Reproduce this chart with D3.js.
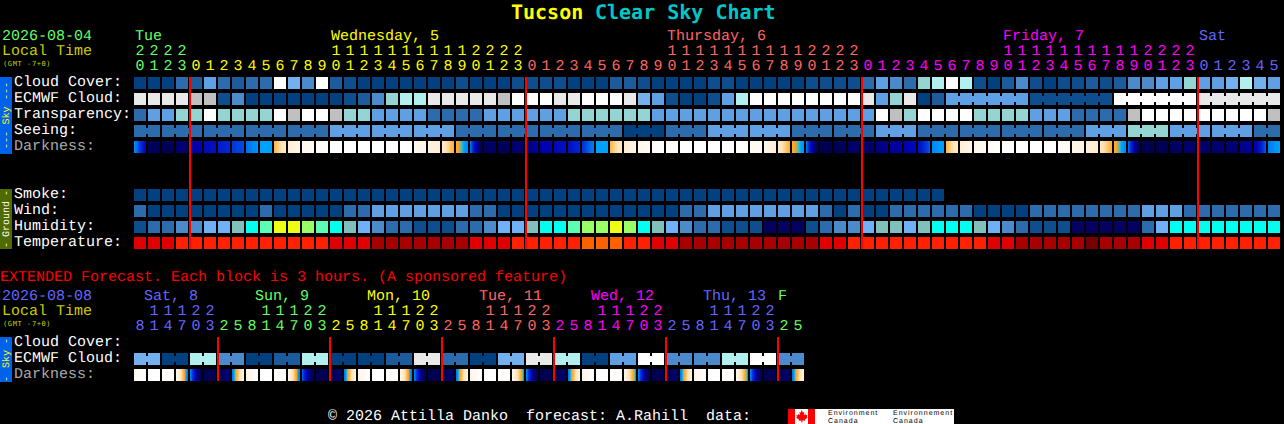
<!DOCTYPE html>
<html><head><meta charset="utf-8">
<script src="https://cdn.jsdelivr.net/npm/d3@7/dist/d3.min.js"></script>
<style>
html,body{margin:0;padding:0;background:#000;overflow:hidden}
svg{display:block}
text{font-family:"Liberation Mono","DejaVu Sans Mono",monospace;font-size:15px;white-space:pre;text-rendering:geometricPrecision}
</style></head><body>
<script>
// ---- level key: 0..5 blue ramp, 6 speckled blue, 7 teal, 8 pale cyan, 9 grey, 10 light grey, 11 white
const cloudCover = [0,0,0,3,2,5,3,2,3,3,11,6,4,11,2,1,0,0,0,0,0,
 0,0,1,0,0,0,1,1,1,1,0,0,0,2,2,1,0,0,0,0,1,1,0,0,0,0,0,1,1,1,1,
 3,5,4,3,7,8,11,8,1,0,2,4,1,0,1,1,2,1,2,4,4,5,5,7,5,5,6,8,6,5];
const ecmwfCloud = [10,10,10,10,9,9,1,4,0,0,0,0,0,0,0,1,2,4,7,8,8,
 10,10,10,10,10,9,11,11,11,10,10,11,11,11,10,6,5,1,0,0,1,5,8,11,11,11,11,11,11,11,11,
 10,5,7,10,0,2,5,5,5,5,5,5,1,1,1,1,1,1,11,11,11,11,11,11,10,10,10,10,10,10];
const transparency = [3,5,5,7,7,11,7,7,7,7,11,9,11,11,9,7,7,5,5,5,5,
 3,3,3,3,5,5,5,5,5,5,7,7,7,7,7,7,5,5,5,5,5,5,5,5,5,5,5,5,5,5,5,
 5,11,9,7,11,11,11,11,7,7,7,7,5,5,5,3,3,3,3,9,11,11,11,11,11,11,11,11,11,9];
const seeing = [3,3,3,3,3,3,3,3,3,3,3,3,3,3,5,5,5,5,5,5,5,5,5,
 3,3,3,3,3,3,3,3,3,3,3,3,0,0,0,3,3,3,5,5,5,5,5,5,3,3,3,3,3,3,
 5,5,5,3,3,3,3,3,3,3,3,3,3,3,3,5,5,5,7,7,7,5,5,5,5,5,5,3,3];
const smoke = new Array(58).fill(0);
const wind = [3,0,0,0,0,0,0,0,0,3,0,0,0,0,0,3,3,5,5,5,5,
 5,5,5,3,3,0,0,0,0,0,0,0,0,0,0,0,0,0,3,3,5,5,5,5,5,5,5,5,3,0,3,
 0,0,3,3,3,3,3,3,0,0,0,0,3,3,3,3,3,3,3,3,5,5,5,3,3,3,3,3,3,3];
// humidity key: 0 navy,1 blue,2 mid,3 light,4 sky,5 grey-teal,6 cyan,7 mint,8 lime,9 yellow
const humidity = [1,2,2,3,3,4,4,5,6,7,9,9,8,7,6,5,4,3,2,2,1,
 1,1,2,2,3,4,4,5,6,6,7,8,8,9,8,6,5,4,3,2,2,1,1,1,0,0,0,1,2,3,3,
 4,5,5,4,5,6,6,6,5,4,3,2,1,1,1,0,0,0,0,0,2,4,6,6,6,6,6,6,6,6];
// temperature key: 0 very dark red,1 dark red,2 red,3 scarlet,4 orange
const temperature = [2,2,2,3,3,3,3,3,3,3,3,3,3,3,2,2,2,1,1,1,1,
 1,1,1,2,2,2,3,3,3,3,3,4,4,4,3,3,2,2,1,1,1,1,1,1,1,1,1,1,2,2,3,
 3,3,3,3,3,3,3,3,3,2,2,1,1,1,1,1,0,1,1,1,2,2,3,3,3,3,3,3,3,3];
// darkness index at left and right edge of each cell (0 daylight .. 94 deep night)
const darknessL = [54,90,93,86,75,71,67,63,58,50,38,20,10,6,0,0,0,0,0,0,10,
 17,24,42,58,87,90,86,84,75,72,70,64,50,38,22,12,4,0,0,0,0,0,0,6,12,24,42,58,93,93,87,
 86,82,78,74,70,54,38,20,12,5,0,0,0,0,2,12,20,26,42,58,93,93,90,86,86,86,85,80,76,56];
const darknessR = [72,90,90,84,74,70,65,61,52,50,24,14,7,2,0,0,0,0,0,0,14,
 20,40,54,90,87,90,84,76,73,70,65,56,50,24,16,6,0,0,0,0,0,0,0,8,20,40,52,90,93,87,86,
 85,80,76,72,60,50,24,14,6,0,0,0,0,0,8,16,22,40,54,90,93,90,86,86,86,84,84,78,60,50];
// extended forecast, 3-hour blocks
const extCloud = [6,6,0,0,8,8,4,4,0,0,2,2,8,8,0,0,0,0,2,2,10,10,3,3,0,0,6,6,10,10,8,8,0,0,5,5,11,11,4,4,4,4,8,8,11,11,4,4];
const extDarkL = [8,0,0,10,56,92,93,56,16,0,0,12,60,93,93,56,14,0,0,12,56,93,93,56,14,0,0,12,56,93,93,56,14,0,0,12,56,93,93,56,14,0,0,12,56,93,93,56];
const extDarkR = [0,0,6,56,93,93,80,16,0,0,6,56,93,93,84,16,0,0,6,56,93,93,84,16,0,0,6,50,93,93,84,16,0,0,6,50,93,93,84,16,0,0,6,50,93,93,84,16];
// header labels
const hours = d3.range(82).map(i=>(20+i)%24);
const green="#66ff66", yellow="#ffff00", salmon="#ff6666", magenta="#ff00ff", periwinkle="#6666ff";
const dayHeads = [["Tue",135,green],["Wednesday, 5",331,yellow],["Thursday, 6",667,salmon],["Friday, 7",1003,magenta],["Sat",1199,periwinkle]];
const extHours = d3.range(48).map(i=>(8+3*i)%24);
const extHeads = [["Sat, 8",144,periwinkle],["Sun, 9",255,green],["Mon, 10",367,yellow],["Tue, 11",479,salmon],["Wed, 12",591,magenta],["Thu, 13",703,periwinkle],["F",778,green]];
const midnightCols = [4,28,52,76];
const extMidCols = [6,14,22,30,38,46];
const seeingBlocks = [0,2,5,8,11,14,17,20,23,26,29,32,35,38,41,44,47,50,53,56,59,62,65,68,71,74,77,80,82];
const ecmwfBlocks = [58,64,70,76,82];
const extBlocks = d3.range(0,50,2);

// ---- scales
const cloudColor = d3.scaleOrdinal([0,1,2,3,4,5,6,7,8,9,10,11],
 ["#03407f","#0f4e8e","#1d5c9c","#2c6bac","#4b8acb","#5f9fe3","#74b0ee","#94d4d2","#b2f0f0","#c0c0c0","#e9e9e9","#ffffff"]);
const humColor = d3.scaleOrdinal(d3.range(10),
 ["#060060","#0f4e8e","#2c6bac","#4b8acb","#70b0f6","#80bfbc","#00ffee","#5affb4","#99ff66","#eeff14"]);
const tempColor = d3.scaleOrdinal(d3.range(5),["#780000","#a80000","#e00000","#ff2000","#ff6000"]);
const darkColor = d3.scaleLinear()
 .domain([0,10,20,30,38,44,47,50,58,62,66,70,74,78,82,86,90,94])
 .range(["#ffffff","#fff8ee","#ffefd8","#ffe0b0","#ffb848","#ffa020","#50c0b0","#00a0ff","#0070e8","#0040e0","#0020d0","#0010c0","#0000b0","#000098","#000080","#000068","#000058","#000050"]);

const x = d3.scaleLinear().domain([0,82]).range([134,134+82*14]);
const step = x(1)-x(0), cw = step-2;
const rowH = 12;
const y = d3.scaleLinear().domain([0,1]).range([77,93]);   // top block rows
const svg = d3.select("body").append("svg").attr("width",1284).attr("height",424);
svg.append("rect").attr("width",1284).attr("height",424).attr("fill","#000");

function label(t,xx,yy,c,o={}){
  const e=svg.append("text").attr("x",xx).attr("y",yy).attr("fill",c).text(t);
  if(o.size)e.style("font-size",o.size+"px");
  if(o.bold)e.style("font-weight","bold");
  if(o.family)e.style("font-family",o.family);
  if(o.spacing)e.style("letter-spacing",o.spacing+"px");
  return e;
}
function row(vals,top,color){
  const g=svg.append("g");
  g.selectAll("rect").data(vals).join("rect")
    .attr("x",(d,i)=>x(i)).attr("y",top).attr("width",cw).attr("height",rowH)
    .attr("fill",d=>color(d));
  return g;
}
function joins(vals,top,blocks,color){
  const g=svg.append("g");
  const pairs=[];
  d3.pairs(blocks).forEach(([a,b])=>{ d3.range(a,b-1).forEach(i=>pairs.push(i)); });
  g.selectAll("rect").data(pairs.filter(i=>i+1<vals.length)).join("rect")
    .attr("x",i=>x(i)+cw).attr("y",top+3).attr("width",step-cw).attr("height",rowH-6)
    .attr("fill",i=>color(vals[i]));
}
function darkRow(L,R,top){
  const g=svg.append("g");
  L.forEach((l,i)=>{
    const slices=d3.range(cw);
    g.selectAll(null).data(slices).join("rect")
      .attr("x",s=>x(i)+s).attr("y",top).attr("width",1).attr("height",rowH)
      .attr("fill",s=>darkColor(l+(R[i]-l)*s/(cw-1)))
      .attr("shape-rendering","crispEdges");
  });
}
function hourDigits(hrs,colorOf,yTens,yOnes){
  hrs.forEach((h,i)=>{
    const c=colorOf(i);
    const s=String(h);
    svg.append("text").attr("x",x(i)+cw/2).attr("y",yOnes).attr("text-anchor","middle").attr("fill",c).text(s[s.length-1]);
    if(h>=10) svg.append("text").attr("x",x(i)+cw/2).attr("y",yTens).attr("text-anchor","middle").attr("fill",c).text(s[0]);
  });
}
function sideBar(top,h,color,txtColor,pieces){
  svg.append("rect").attr("x",0).attr("y",top).attr("width",12).attr("height",h).attr("fill",color);
  pieces.forEach(([str,cy])=>{
    svg.append("text").attr("transform",`translate(9,${cy}) rotate(-90)`).attr("text-anchor","middle")
      .attr("fill",txtColor).style("font-size","10px").text(str);
  });
}

// ---- title
const title=svg.append("text").attr("x",511).attr("y",19).style("font-size","20px").style("font-weight","bold").style("font-family",'"DejaVu Sans Mono",monospace');
title.append("tspan").attr("fill","#ffff00").text("Tucson");
title.append("tspan").attr("fill","#00c8c8").attr("x",595).text("Clear Sky Chart");

// ---- header block
const gmtOpts={size:7,family:'"DejaVu Sans Mono",monospace',spacing:0.6};
label("2026-08-04",2,40,green);
label("Local Time",2,55,"#cccc00");
label("(GMT -7+0)",3,66,"#cccc00",gmtOpts);
dayHeads.forEach(([t,xx,c])=>label(t,xx,40,c));
hourDigits(hours,i=>{
  const dayIdx=i<4?0:Math.min(4,1+Math.floor((i-4)/24));
  return dayHeads[dayIdx][2];
},55,70);

// ---- rows
const rowNames=["Cloud Cover:","ECMWF Cloud:","Transparency:","Seeing:","Darkness:"];
rowNames.forEach((n,i)=>label(n,14,86+16*i,i==4?"#aaaaaa":"#ffffff"));
row(cloudCover,y(0),cloudColor);
row(ecmwfCloud,y(1),cloudColor); joins(ecmwfCloud,y(1),ecmwfBlocks,cloudColor);
row(transparency,y(2),cloudColor);
row(seeing,y(3),cloudColor); joins(seeing,y(3),seeingBlocks,cloudColor);
darkRow(darknessL,darknessR,y(4));
sideBar(77,77,"#0062ea","#ffff00",[["---",91],["Sky",115.5],["---",140]]);

["Smoke:","Wind:","Humidity:","Temperature:"].forEach((n,i)=>label(n,14,198+16*i,"#ffffff"));
row(smoke,y(7),cloudColor);
row(wind,y(8),cloudColor);
row(humidity,y(9),humColor);
row(temperature,y(10),tempColor);
sideBar(189,60,"#4f6a00","#ffffff",[["-",193],["Ground",219],["-",245]]);

// midnight lines
svg.append("g").selectAll("rect").data(midnightCols).join("rect")
  .attr("x",c=>x(c)-1).attr("y",77).attr("width",2).attr("height",172).attr("fill","#ff0000");

// ---- extended block
label("EXTENDED Forecast. Each block is 3 hours. (A sponsored feature)",0,281,"#ff0000");
label("2026-08-08",2,300,periwinkle);
label("Local Time",2,315,"#cccc00");
label("(GMT -7+0)",3,326,"#cccc00",gmtOpts);
extHeads.forEach(([t,xx,c])=>label(t,xx,300,c));
hourDigits(extHours,i=>extHeads[i<6?0:Math.min(6,1+Math.floor((i-6)/8))][2],315,330);
["Cloud Cover:","ECMWF Cloud:","Darkness:"].forEach((n,i)=>label(n,14,346+16*i,i==2?"#aaaaaa":"#ffffff"));
row(extCloud,353,cloudColor); joins(extCloud,353,extBlocks,cloudColor);
darkRow(extDarkL,extDarkR,369);
sideBar(337,45,"#0062ea","#ffff00",[["-",341],["Sky",359],["-",379]]);
svg.append("g").selectAll("rect").data(extMidCols).join("rect")
  .attr("x",c=>x(c)-1).attr("y",337).attr("width",2).attr("height",44).attr("fill","#ff0000");

// ---- footer
label("\u00A9 2026 Attilla Danko  forecast: A.Rahill  data:",328,420,"#ffffff");
svg.append("rect").attr("x",788).attr("y",409).attr("width",166).attr("height",15).attr("fill","#fff");
svg.append("rect").attr("x",788).attr("y",409).attr("width",7).attr("height",15).attr("fill","#ff0000");
svg.append("rect").attr("x",808).attr("y",409).attr("width",7).attr("height",15).attr("fill","#ff0000");
svg.append("path").attr("d","M801.5 410l1.4 2.6 1.4-.7-.5 3 1.7-1 .4 1.3 1.6-.3-.7 2 .9.6-3 2.2.3 1.1-2.6-.4v2.1h-1v-2.1l-2.6.4.3-1.1-3-2.2.9-.6-.7-2 1.6.3.4-1.3 1.7 1-.5-3 1.4.7z").attr("fill","#ff0000");
const envOpts={size:7,family:'"Liberation Sans",sans-serif',spacing:1};
[["Environment",828],["Environnement",893]].forEach(([t,xx])=>{
  label(t,xx,414.5,"#000",envOpts);
  label("Canada",xx,422.5,"#000",envOpts);
});
</script>
</body></html>
